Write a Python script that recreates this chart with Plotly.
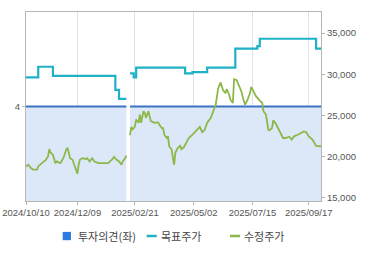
import plotly.graph_objects as go

# ---- data (x = trading-day index) ----
tick_idx = [0, 42, 89, 137, 185, 231]
tick_labels = ["2024/10/10", "2024/12/09", "2025/02/21", "2025/05/02", "2025/07/15", "2025/09/17"]

opinion_x = [0, 82, 83, 85, 241]
opinion_v = [4, 4, None, 4, 4]

target_x = [0, 10, 22, 73, 76, 82, 83, 85, 88, 90, 130, 136, 148, 171, 189, 191, 237, 241]
target_v = [29600, 30900, 29800, 28100, 27000, 27000, None, 30100, 29600, 30800,
            30100, 30250, 30800, 33100, 33400, 34300, 33100, 33100]

price_x = [0, 2, 4, 6, 9, 10, 13, 16, 18, 19, 20, 22, 24, 25, 28, 29, 31, 33, 34, 35,
           36, 38, 40, 42, 43, 44, 46, 49, 50, 52, 54, 56, 59, 60, 63, 67, 70, 72, 74, 76,
           78, 79, 81, 82, 83,
           85, 86, 87, 89, 90, 92, 93, 94, 96, 97, 98, 100, 101, 102, 105, 108, 109, 111, 112, 113,
           115, 116, 117, 119, 120, 121, 122, 124, 126, 127, 129, 131, 133, 136, 138, 140, 142, 144, 146, 148,
           150, 151, 153, 155, 156, 157, 159, 161, 163, 164, 166, 167, 169, 170, 172, 174, 176, 178, 179, 181,
           183, 184, 186, 188, 191, 193, 194, 196, 198, 199, 201, 202, 204, 207, 210, 212, 215, 217, 219, 222,
           225, 227, 229, 231, 234, 237, 240, 241]
price_v = [18800, 19000, 18600, 18400, 18400, 18800, 19200, 19550, 20000, 20900, 20500, 20200, 19200, 19400,
           19200, 19400, 20000, 20900, 21050, 20450, 19800, 19600, 18800, 17900, 19000, 19600, 19800, 19700,
           19800, 19400, 19800, 19400, 19200, 19200, 19150, 19200, 19600, 19950, 19600, 19400, 19000, 19400,
           19800, 20100, None,
           22600, 23600, 23250, 23650, 24500, 24100, 25100, 24100, 25500, 25300, 24700, 25500, 24900, 24300,
           24100, 24150, 23850, 23450, 23450, 22650, 22250, 22450, 21250, 20850, 19850, 19000, 20450, 21050,
           21300, 20900, 21150, 21650, 22250, 22650, 22950, 23250, 23600, 22950, 23250, 24100, 24500, 24700,
           25500, 26300, 27300, 28300, 29000, 28050, 27700, 28200, 27500, 26900, 26500, 29400, 29300, 28700,
           27900, 26700, 26300, 26900, 27700, 28450, 27900, 27300, 26800, 26500, 25500, 25100, 23250, 23200,
           23450, 24400, 24000, 23050, 22250, 22250, 22400, 22050, 22450, 22650, 22850, 23050, 22950, 22450,
           22050, 21300, 21250, 21250]

right_ticks = [15000, 20000, 25000, 30000, 35000]
legend_names = ["투자의견(좌)", "목표주가", "수정주가"]

# ---- colours ----
C_OPIN = "#3b72c2"
C_FILL = "#dce8f8"
C_TARGET = "#1fb1c6"
C_PRICE = "#8cb849"
C_LEG_SQ = "#2b7be0"
AX = "#b5b5b5"
TXT = "#555555"

fig = go.Figure()
# opinion: split at the gap into separate filled segments
segs = []
cur_x, cur_v = [], []
for xv, vv in zip(opinion_x, opinion_v):
    if vv is None:
        if cur_x:
            segs.append((cur_x, cur_v))
        cur_x, cur_v = [], []
    else:
        cur_x.append(xv)
        cur_v.append(vv)
if cur_x:
    segs.append((cur_x, cur_v))
for sx, sv in segs:
    fig.add_trace(go.Scatter(x=sx, y=sv, mode="lines", fill="tozeroy",
                             fillcolor=C_FILL, line=dict(color=C_OPIN, width=2.2),
                             yaxis="y", showlegend=False))
fig.add_trace(go.Scatter(x=target_x, y=target_v, mode="lines", line=dict(color=C_TARGET, width=2.2, shape="hv"),
                         connectgaps=False, yaxis="y2", showlegend=False))
fig.add_trace(go.Scatter(x=price_x, y=price_v, mode="lines", line=dict(color=C_PRICE, width=1.8),
                         connectgaps=False, yaxis="y2", showlegend=False))

tickfont = dict(family="Liberation Sans, Arial, sans-serif", size=9.5, color=TXT)
fig.update_layout(
    width=370, height=255,
    margin=dict(l=26, r=49, t=12, b=54),
    paper_bgcolor="white", plot_bgcolor="white",
    xaxis=dict(range=[0, 241], tickvals=tick_idx, ticktext=tick_labels, tickfont=tickfont,
               showgrid=True, gridcolor="#dde3ea", gridwidth=1, zeroline=False,
               showline=True, linecolor=AX, linewidth=1, mirror=True, automargin=False,
               ticks="outside", ticklen=3, tickcolor=AX),
    yaxis=dict(range=[0, 8], tickvals=[4], ticktext=["4"], tickfont=tickfont, automargin=False,
               showgrid=False, zeroline=False, showline=True, linecolor=AX, linewidth=1,
               ticks="outside", ticklen=3, tickcolor=AX),
    yaxis2=dict(range=[14600, 37550], overlaying="y", side="right", tickvals=right_ticks, automargin=False,
                tickformat=",", tickfont=tickfont, showgrid=False, zeroline=False,
                showline=True, linecolor=AX, linewidth=1, ticks="outside", ticklen=3, tickcolor=AX),
)

# ---- manual legend ----
W, H = 295.0, 189.0
def px(x):
    return (x - 26) / W
def py(y):
    return (201 - y) / H

legfont = dict(family="Noto Sans CJK KR, sans-serif", size=11, color="#444444")
fig.add_shape(type="rect", xref="paper", yref="paper", x0=px(62.7), x1=px(71), y0=py(240.2), y1=py(231.9),
              fillcolor=C_LEG_SQ, line=dict(width=0))
fig.add_shape(type="line", xref="paper", yref="paper", x0=px(146.7), x1=px(156.7), y0=py(236), y1=py(236),
              line=dict(color=C_TARGET, width=2.5))
fig.add_shape(type="line", xref="paper", yref="paper", x0=px(230), x1=px(240), y0=py(236), y1=py(236),
              line=dict(color=C_PRICE, width=2.5))
for xpos, name in zip([76, 159, 242], legend_names):
    fig.add_annotation(xref="paper", yref="paper", x=px(xpos), y=py(236), text=name, showarrow=False,
                       xanchor="left", yanchor="middle", font=legfont)

fig.write_html("out.html")
